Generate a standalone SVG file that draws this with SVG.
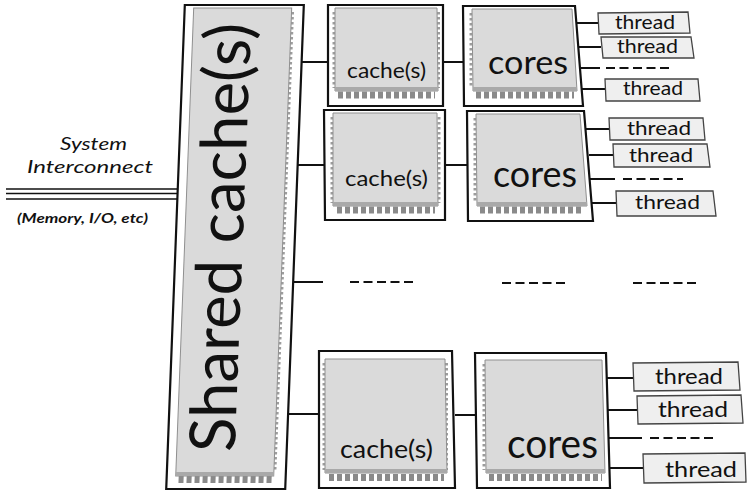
<svg xmlns="http://www.w3.org/2000/svg" width="747" height="493" viewBox="0 0 747 493">
  <style>
    .frame{fill:#fff;stroke:#111;stroke-width:2.2}
    .face{fill:#dadada;stroke:#8f8f8f;stroke-width:1}
    .band{fill:#a9a9a9}
    .pins{stroke:#8a8a8a;stroke-width:7;stroke-dasharray:5 3;fill:none}
    .serr{stroke:#9d9d9d;stroke-width:3;stroke-dasharray:2.5 2.5;fill:none}
    .lbl{font-family:Lato,"Open Sans",sans-serif;fill:#111}
    .tbox{fill:#efefef;stroke:#444;stroke-width:1.3}
    .wire{stroke:#111;stroke-width:2;fill:none}
    .dash{stroke:#111;stroke-width:2;stroke-dasharray:9 4.5;fill:none}
    .bus{stroke:#111;stroke-width:1.6;fill:none}
  </style>

  <!-- system interconnect label and bus -->
  <g id="interconnect">
    <text class="lbl" x="93.5" y="150" font-size="18" font-style="italic" text-anchor="middle" textLength="67" lengthAdjust="spacingAndGlyphs">System</text>
    <text class="lbl" x="90" y="173" font-size="18" font-style="italic" text-anchor="middle" textLength="126" lengthAdjust="spacingAndGlyphs">Interconnect</text>
    <line class="bus" x1="6" y1="189" x2="180" y2="189"/>
    <line class="bus" x1="6" y1="193.5" x2="180" y2="193.5"/>
    <line class="bus" x1="6" y1="199" x2="180" y2="199"/>
    <text class="lbl" x="82.5" y="223" font-size="13" font-style="italic" font-weight="bold" text-anchor="middle" textLength="131" lengthAdjust="spacingAndGlyphs">(Memory, I/O, etc)</text>
  </g>

  <!-- large shared cache chip, slightly slanted -->
  <g id="shared-cache" transform="skewX(-2.2)">
    <rect class="frame" x="185" y="5" width="119" height="484"/>
    <line class="pins" x1="197" y1="479.5" x2="290" y2="479.5"/>
    <line class="serr" x1="293" y1="12" x2="293" y2="472"/>
    <rect class="face" x="194" y="8" width="98" height="468"/>
    <rect class="band" x="194" y="472" width="98" height="4"/>
    <text class="lbl" transform="translate(252,452) rotate(-90)" font-size="64" textLength="429" lengthAdjust="spacingAndGlyphs">Shared cache(s)</text>
  </g>

  <!-- connectors -->
  <g id="connectors">
    <line class="wire" x1="302" y1="62" x2="328" y2="62"/>
    <line class="wire" x1="298" y1="165" x2="324" y2="165"/>
    <line class="wire" x1="293" y1="282" x2="323" y2="282"/>
    <line class="wire" x1="288" y1="414" x2="319" y2="414"/>
    <line class="wire" x1="443" y1="62" x2="463" y2="62"/>
    <line class="wire" x1="445" y1="165" x2="467" y2="165"/>
    <line class="wire" x1="455" y1="415" x2="476" y2="415"/>
    <line class="wire" x1="576" y1="23" x2="598" y2="23"/>
    <line class="wire" x1="578" y1="47" x2="601" y2="47"/>
    <line class="wire" x1="579" y1="68" x2="600" y2="68"/>
    <line class="wire" x1="581" y1="89" x2="605" y2="89"/>
    <line class="wire" x1="586" y1="129" x2="609" y2="129"/>
    <line class="wire" x1="589" y1="155" x2="613" y2="155"/>
    <line class="wire" x1="590" y1="179" x2="615" y2="179"/>
    <line class="wire" x1="592" y1="203" x2="616" y2="203"/>
    <line class="wire" x1="607" y1="378" x2="633" y2="378"/>
    <line class="wire" x1="608" y1="410" x2="637" y2="410"/>
    <line class="wire" x1="609" y1="438" x2="642" y2="438"/>
    <line class="wire" x1="610" y1="468" x2="643" y2="468"/>
    <line class="dash" x1="606" y1="68" x2="669" y2="68"/>
    <line class="dash" x1="623" y1="179" x2="683" y2="179"/>
    <line class="dash" x1="650" y1="438" x2="717" y2="438"/>
    <line class="dash" x1="350" y1="282" x2="413" y2="282"/>
    <line class="dash" x1="502" y1="283" x2="566" y2="283"/>
    <line class="dash" x1="633" y1="283" x2="698" y2="283"/>
  </g>

  <!-- row 1 -->
  <g id="cache-1">
    <polygon class="frame" points="328,5 443,5 443,106 328,106"/>
    <line class="pins" x1="338" y1="95" x2="435" y2="95"/>
    <line class="serr" x1="334" y1="12" x2="334" y2="88"/>
    <line class="serr" x1="438.5" y1="12" x2="438.5" y2="88"/>
    <polygon class="face" points="335,8 437,8 438,91 335,91"/>
    <polygon class="band" points="335,87 438,87 438,91 335,91"/>
    <text class="lbl" x="386.5" y="78" font-size="22" text-anchor="middle" textLength="79" lengthAdjust="spacingAndGlyphs">cache(s)</text>
  </g>
  <g id="cores-1">
    <polygon class="frame" points="463,6 575,6 583,106 464,106"/>
    <line class="pins" x1="476" y1="95" x2="574" y2="95"/>
    <line class="serr" x1="471" y1="13" x2="471" y2="88"/>
    <polygon class="face" points="472,9 572,9 577,91 473,91"/>
    <polygon class="band" points="473,87 577,87 577,91 473,91"/>
    <text class="lbl" x="528" y="74" font-size="32" text-anchor="middle" textLength="80" lengthAdjust="spacingAndGlyphs">cores</text>
  </g>
  <g id="thread-1a"><polygon class="tbox" points="598,13 688,12 690,33 599,34"/><text class="lbl" x="645" y="29" font-size="19" text-anchor="middle" textLength="60" lengthAdjust="spacingAndGlyphs">thread</text></g>
  <g id="thread-1b"><polygon class="tbox" points="601,37 691,37 694,58 603,58"/><text class="lbl" x="647.5" y="53" font-size="19" text-anchor="middle" textLength="61" lengthAdjust="spacingAndGlyphs">thread</text></g>
  <g id="thread-1c"><polygon class="tbox" points="605,79 698,79 700,101 606,101"/><text class="lbl" x="653" y="95" font-size="19" text-anchor="middle" textLength="60" lengthAdjust="spacingAndGlyphs">thread</text></g>

  <!-- row 2 -->
  <g id="cache-2">
    <polygon class="frame" points="324,110 445,110 445,220 325,220"/>
    <line class="pins" x1="337" y1="210" x2="435" y2="210"/>
    <line class="serr" x1="332" y1="117" x2="332" y2="203"/>
    <line class="serr" x1="439" y1="117" x2="439" y2="203"/>
    <polygon class="face" points="333,113 437,113 438,206 333,206"/>
    <polygon class="band" points="333,202 438,202 438,206 333,206"/>
    <text class="lbl" x="386.5" y="186" font-size="22" text-anchor="middle" textLength="83" lengthAdjust="spacingAndGlyphs">cache(s)</text>
  </g>
  <g id="cores-2">
    <polygon class="frame" points="467,111 584,111 593,221 468,221"/>
    <line class="pins" x1="480" y1="210" x2="584" y2="210"/>
    <line class="serr" x1="475" y1="118" x2="475" y2="203"/>
    <polygon class="face" points="476,114 580,114 587,206 477,206"/>
    <polygon class="band" points="477,202 587,202 587,206 477,206"/>
    <text class="lbl" x="535" y="187" font-size="36" text-anchor="middle" textLength="84" lengthAdjust="spacingAndGlyphs">cores</text>
  </g>
  <g id="thread-2a"><polygon class="tbox" points="609,118 703,118 705,140 610,140"/><text class="lbl" x="659" y="135" font-size="20" text-anchor="middle" textLength="64" lengthAdjust="spacingAndGlyphs">thread</text></g>
  <g id="thread-2b"><polygon class="tbox" points="613,144 707,144 710,167 614,167"/><text class="lbl" x="661" y="162" font-size="20" text-anchor="middle" textLength="64" lengthAdjust="spacingAndGlyphs">thread</text></g>
  <g id="thread-2c"><polygon class="tbox" points="616,191 713,191 716,216 617,216"/><text class="lbl" x="667.5" y="209" font-size="20" text-anchor="middle" textLength="65" lengthAdjust="spacingAndGlyphs">thread</text></g>

  <!-- last row -->
  <g id="cache-n">
    <polygon class="frame" points="319,351 452,351 455,488 319,488"/>
    <line class="pins" x1="329" y1="477.5" x2="444" y2="477.5"/>
    <line class="serr" x1="324" y1="363" x2="324" y2="470"/>
    <line class="serr" x1="446.5" y1="363" x2="446.5" y2="470"/>
    <polygon class="face" points="325,359 445,359 447,473 325,473"/>
    <polygon class="band" points="325,469 447,469 447,473 325,473"/>
    <text class="lbl" x="386.5" y="458" font-size="25" text-anchor="middle" textLength="93" lengthAdjust="spacingAndGlyphs">cache(s)</text>
  </g>
  <g id="cores-n">
    <polygon class="frame" points="475,353 606,353 610,488 477,488"/>
    <line class="pins" x1="489" y1="477.5" x2="602" y2="477.5"/>
    <line class="serr" x1="484" y1="364" x2="484" y2="470"/>
    <polygon class="face" points="485,360 602,360 605,473 486,473"/>
    <polygon class="band" points="486,469 605,469 605,473 486,473"/>
    <text class="lbl" x="552.5" y="458" font-size="40" text-anchor="middle" textLength="91" lengthAdjust="spacingAndGlyphs">cores</text>
  </g>
  <g id="thread-na"><polygon class="tbox" points="633,363 738,362 740,390 634,391"/><text class="lbl" x="689" y="384" font-size="22" text-anchor="middle" textLength="68" lengthAdjust="spacingAndGlyphs">thread</text></g>
  <g id="thread-nb"><polygon class="tbox" points="637,396 741,395 743,423 638,424"/><text class="lbl" x="693" y="417" font-size="22" text-anchor="middle" textLength="70" lengthAdjust="spacingAndGlyphs">thread</text></g>
  <g id="thread-nc"><polygon class="tbox" points="643,454 745,453 746,482 644,483"/><text class="lbl" x="701" y="477" font-size="22" text-anchor="middle" textLength="72" lengthAdjust="spacingAndGlyphs">thread</text></g>
</svg>
